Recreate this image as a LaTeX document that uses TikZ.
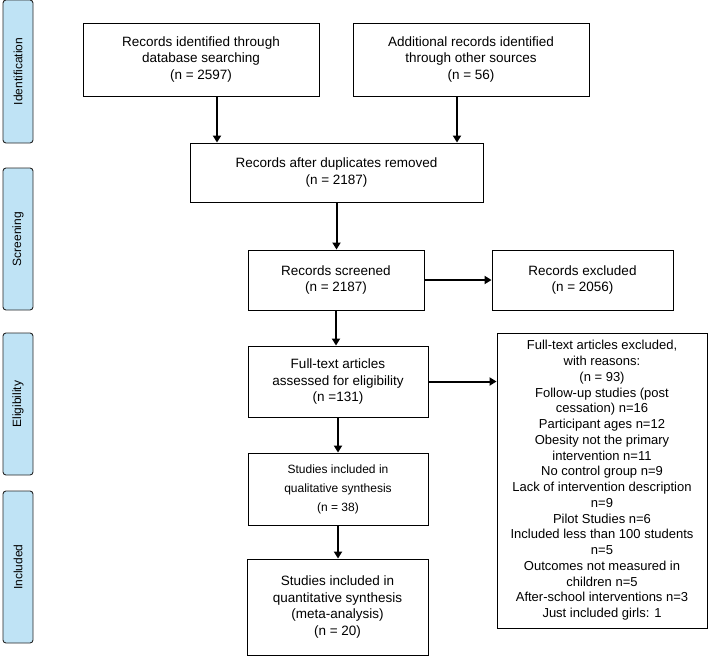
\documentclass[tikz,border=0pt]{standalone}
\usepackage{fontspec}
\setmainfont{Liberation Sans}
\usetikzlibrary{arrows.meta}
\definecolor{sideblue}{HTML}{BFE3F5}
\begin{document}
\begin{tikzpicture}[x=1pt,y=-1pt,
  box/.style={draw, line width=0.9pt, align=center, inner sep=0pt, font=\fontsize{13.5}{16.7}\selectfont},
  smallbox/.style={box, font=\fontsize{12}{19}\selectfont},
  side/.style={draw=black!85, line width=0.9pt, fill=sideblue, rounded corners=3pt, inner sep=0pt, minimum width=30pt, font=\fontsize{12}{14}\selectfont},
  arr/.style={line width=2pt, -{Triangle[length=7pt,width=8pt]}}]
\useasboundingbox (0,0) rectangle (708,656);
% side labels
\node[side, minimum height=143pt] (s1) at (18,71.5) {\rotatebox{90}{Identification}};
\node[side, minimum height=142pt] (s2) at (18,239) {\rotatebox{90}{Screening}};
\node[side, minimum height=142pt] (s3) at (18,404) {\rotatebox{90}{Eligibility}};
\node[side, minimum height=152pt] (s4) at (18,567) {\rotatebox{90}{Included}};
% boxes
\node[box, minimum width=236pt, minimum height=73pt] (db) at (201,59.5) {Records identified through\\database searching\\(n = 2597)};
\node[box, minimum width=236pt, minimum height=73pt] (add) at (471,59.5) {Additional records identified\\through other sources\\(n = 56)};
\node[box, minimum width=293pt, minimum height=59pt] (dup) at (336.5,172.5) {Records after duplicates removed\\(n = 2187)};
\node[box, minimum width=176pt, minimum height=60pt] (scr) at (336,280) {Records screened\\(n = 2187)};
\node[box, minimum width=181pt, minimum height=60pt] (exc) at (582.5,280) {Records excluded\\(n = 2056)};
\node[box, minimum width=180pt, minimum height=71pt] (ft) at (338,381.5) {Full-text articles\\assessed for eligibility\\(n =131)};
\node[smallbox, minimum width=180pt, minimum height=72pt] (qual) at (338,489) {Studies included in\\qualitative synthesis\\(n = 38)};
\node[box, minimum width=181pt, minimum height=96pt] (quan) at (337.5,607) {Studies included in\\quantitative synthesis\\(meta-analysis)\\(n = 20)};
\node[box, minimum width=210pt, minimum height=295pt, font=\fontsize{13}{15.75}\selectfont] (ftx) at (602,480.5) {Full-text articles excluded,\\with reasons:\\(n = 93)\\Follow-up studies (post\\cessation) n=16\\Participant ages n=12\\Obesity not the primary\\intervention n=11\\No control group n=9\\Lack of intervention description\\n=9\\Pilot Studies n=6\\Included less than 100 students\\n=5\\Outcomes not measured in\\children n=5\\After-school interventions n=3\\Just included girls: 1};
% arrows
\draw[arr] ([xshift=16pt]db.south) -- ([xshift=16pt]db.south |- dup.north);
\draw[arr] ([xshift=-14pt]add.south) -- ([xshift=-14pt]add.south |- dup.north);
\draw[arr] (dup.south) -- (dup.south |- scr.north);
\draw[arr] (scr.east) -- (exc.west);
\draw[arr] (scr.south) -- (scr.south |- ft.north);
\draw[arr] (ft.east) -- (ft.east -| ftx.west);
\draw[arr] (ft.south) -- (ft.south |- qual.north);
\draw[arr] (qual.south) -- (qual.south |- quan.north);
\end{tikzpicture}
\end{document}
